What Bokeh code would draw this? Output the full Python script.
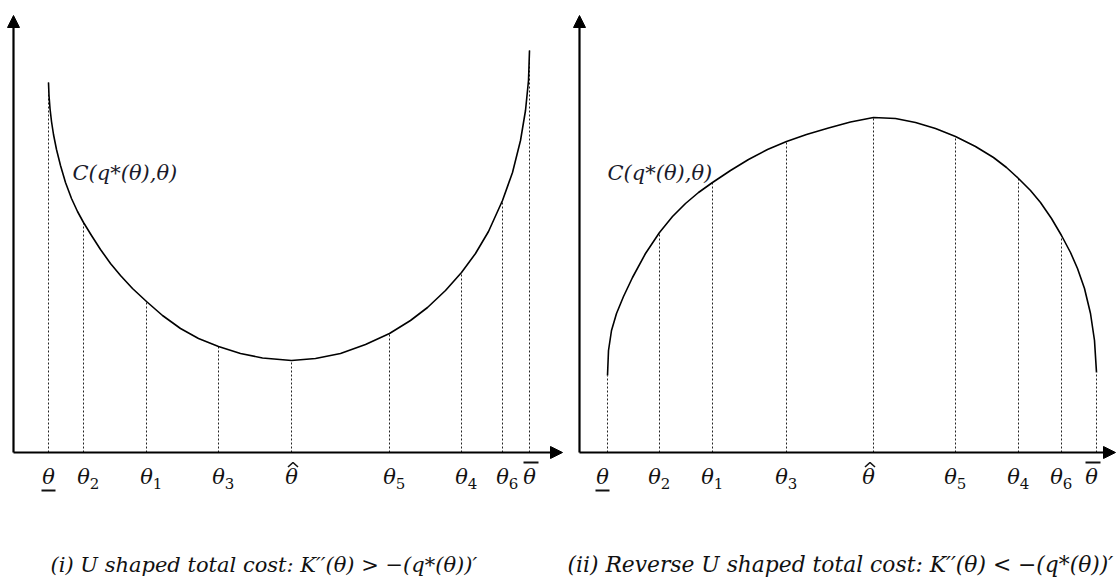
from bokeh.plotting import figure
from bokeh.layouts import row
from bokeh.models import Arrow, NormalHead, Range1d
from bokeh.core.properties import value
from bokeh.embed import file_html
from bokeh.resources import INLINE

# ---------------- data ----------------
# tick labels: base symbol, subscript, decoration ("under", "hat", "over" or "")
tick_base = ["θ", "θ", "θ", "θ", "θ", "θ", "θ", "θ", "θ"]
tick_sub = ["", "2", "1", "3", "", "5", "4", "6", ""]
tick_deco = ["under", "", "", "", "hat", "", "", "", "over"]

# panel (i): U shaped total cost
theta_left = [0.35, 0.70, 1.33, 2.05, 2.78, 3.76, 4.48, 4.89, 5.16]
cost_at_theta_left = [3.70, 2.30, 1.51, 1.06, 0.92, 1.19, 1.80, 2.52, 4.02]
curve_x_left = [0.35, 0.355, 0.365, 0.38, 0.40, 0.43, 0.47, 0.52, 0.58, 0.64, 0.70,
                0.78, 0.87, 0.97, 1.07, 1.19, 1.33, 1.49, 1.67, 1.85, 2.05, 2.27,
                2.49, 2.78, 3.02, 3.27, 3.52, 3.76, 3.97, 4.14, 4.32, 4.48, 4.62,
                4.75, 4.89, 4.99, 5.07, 5.12, 5.15, 5.16]
curve_y_left = [3.70, 3.57, 3.44, 3.31, 3.18, 3.03, 2.87, 2.70, 2.54, 2.41, 2.30,
                2.17, 2.03, 1.89, 1.77, 1.64, 1.51, 1.37, 1.24, 1.14, 1.06, 0.99,
                0.945, 0.92, 0.94, 0.99, 1.08, 1.19, 1.32, 1.45, 1.62, 1.80, 1.99,
                2.21, 2.52, 2.80, 3.12, 3.42, 3.72, 4.02]

# panel (ii): reverse U shaped total cost
theta_right = [0.28, 0.80, 1.33, 2.07, 2.94, 3.76, 4.39, 4.82, 5.17]
cost_at_theta_right = [0.77, 2.20, 2.70, 3.11, 3.35, 3.16, 2.74, 2.17, 0.80]
curve_x_right = [0.28, 0.29, 0.32, 0.37, 0.44, 0.53, 0.66, 0.80, 0.93, 1.06, 1.19,
                 1.33, 1.51, 1.69, 1.88, 2.07, 2.27, 2.49, 2.71, 2.94, 3.16, 3.36,
                 3.56, 3.76, 3.96, 4.14, 4.27, 4.39, 4.51, 4.61, 4.72, 4.82, 4.91,
                 4.98, 5.05, 5.11, 5.15, 5.17]
curve_y_right = [0.77, 1.02, 1.22, 1.39, 1.56, 1.75, 1.99, 2.20, 2.36, 2.49, 2.60,
                 2.70, 2.82, 2.93, 3.03, 3.11, 3.18, 3.245, 3.305, 3.35, 3.34, 3.30,
                 3.24, 3.16, 3.06, 2.95, 2.85, 2.74, 2.62, 2.50, 2.34, 2.17, 2.00,
                 1.84, 1.64, 1.39, 1.12, 0.80]

curve_label = "C(q*(θ),θ)"
caption_left = "(i) U shaped total cost: K′′(θ) > −(q*(θ))′"
caption_right = "(ii) Reverse U shaped total cost: K′′(θ) < −(q*(θ))′"

SERIF = value("DejaVu Serif")
INK = "#111111"


def make_panel(width, x_start, thetas, cost_at, cx, cy, label_shift, label_pos,
               caption, caption_x, caption_size):
    p = figure(width=width, height=579,
               x_range=Range1d(x_start, x_start + width / 100.0),
               y_range=Range1d(-1.27, 4.52),
               output_backend="svg", toolbar_location=None,
               x_axis_type=None, y_axis_type=None, min_border=0)
    p.outline_line_color = None
    p.background_fill_color = "white"
    p.border_fill_color = "white"

    # dotted drop lines
    p.segment(x0=thetas, y0=[0] * len(thetas), x1=thetas, y1=cost_at,
              line_color="#222222", line_width=1, line_dash="2 2")
    # the cost curve
    p.line(cx, cy, line_color="black", line_width=1.6, line_join="round")

    # axes with arrowheads
    p.add_layout(Arrow(end=NormalHead(size=12, fill_color="black", line_color="black"),
                       x_start=0, y_start=0, x_end=0, y_end=4.37,
                       line_color="black", line_width=2.2))
    p.add_layout(Arrow(end=NormalHead(size=12, fill_color="black", line_color="black"),
                       x_start=0, y_start=0, x_end=x_start + width / 100.0 - 0.01, y_end=0,
                       line_color="black", line_width=2.2))

    # tick labels
    lx = [t + label_shift for t in thetas]
    p.text(x=lx, y=[-0.24] * len(lx), text=tick_base,
           text_font=SERIF, text_font_style="italic", text_font_size="21px",
           text_align="center", text_baseline="middle", text_color=INK)
    sx = [x + 0.11 for x, s in zip(lx, tick_sub) if s]
    st = [s for s in tick_sub if s]
    p.text(x=sx, y=[-0.31] * len(sx), text=st,
           text_font=SERIF, text_font_size="15px",
           text_align="center", text_baseline="middle", text_color=INK)
    # decorations: underline, hat, overline
    ux = [x for x, d in zip(lx, tick_deco) if d == "under"]
    p.segment(x0=[x - 0.07 for x in ux], y0=[-0.38] * len(ux),
              x1=[x + 0.07 for x in ux], y1=[-0.38] * len(ux),
              line_color=INK, line_width=2)
    ox = [x for x, d in zip(lx, tick_deco) if d == "over"]
    p.segment(x0=[x - 0.06 for x in ox], y0=[-0.10] * len(ox),
              x1=[x + 0.09 for x in ox], y1=[-0.10] * len(ox),
              line_color=INK, line_width=2)
    hx = [x for x, d in zip(lx, tick_deco) if d == "hat"]
    p.multi_line(xs=[[x - 0.035, x + 0.015, x + 0.065] for x in hx],
                 ys=[[-0.145, -0.10, -0.145] for _ in hx],
                 line_color=INK, line_width=1.6)

    # curve label
    p.text(x=[label_pos[0]], y=[label_pos[1]], text=[curve_label],
           text_font=SERIF, text_font_style="italic", text_font_size="21px",
           text_align="left", text_baseline="middle", text_color="#1a1a2a")
    # caption
    p.text(x=[caption_x], y=[-1.12], text=[caption],
           text_font=SERIF, text_font_style="italic", text_font_size=caption_size,
           text_align="left", text_baseline="middle", text_color=INK)
    return p


p1 = make_panel(563, -0.13, theta_left, cost_at_theta_left, curve_x_left, curve_y_left,
                0.0, (0.59, 2.80), caption_left, 0.37, "21px")
p2 = make_panel(553, -0.16, theta_right, cost_at_theta_right, curve_x_right, curve_y_right,
                -0.05, (0.28, 2.80), caption_right, -0.12, "21.8px")

layout = row(p1, p2)
open("out.html", "w").write(file_html(layout, INLINE))
